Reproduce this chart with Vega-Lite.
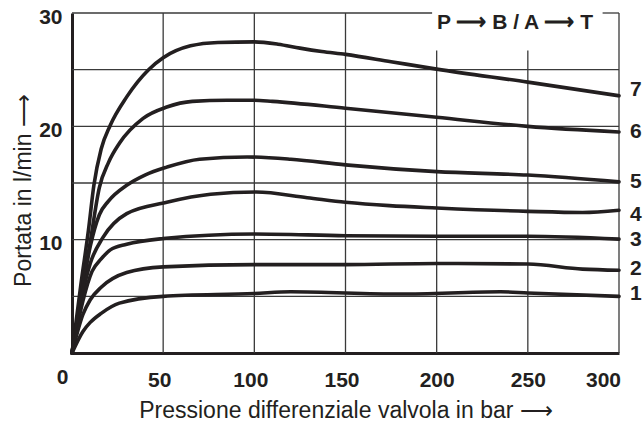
{
  "$schema": "https://vega.github.io/schema/vega-lite/v6.json",
  "width": 547,
  "height": 340,
  "autosize": "none",
  "padding": {"left": 72, "top": 13, "right": 25, "bottom": 75},
  "background": "white",
  "config": {
    "view": {"stroke": null},
    "font": "Liberation Sans",
    "axis": {
      "grid": false, "ticks": false, "tickSize": 0,
      "labelFlush": false, "labelOverlap": false,
      "labelFont": "Liberation Sans", "labelFontSize": 21, "labelFontWeight": "bold", "labelColor": "#231f20",
      "domainWidth": 3, "domainColor": "#231f20",
      "titleFont": "Liberation Sans", "titleFontSize": 23, "titleFontWeight": "normal", "titleColor": "#231f20"
    }
  },
  "datasets": {
    "hgrid": [{"v": 5}, {"v": 10}, {"v": 15}, {"v": 20}, {"v": 25}],
    "vfull": [{"g": 50}, {"g": 100}, {"g": 150}, {"g": 300}],
    "vpart": [{"g": 200}, {"g": 250}],
    "curves": [
      {"c": "7", "p": 0, "q": 0}, {"c": "7", "p": 5, "q": 6.2}, {"c": "7", "p": 9, "q": 10.8}, {"c": "7", "p": 12, "q": 14.8}, {"c": "7", "p": 16, "q": 18.0}, {"c": "7", "p": 21, "q": 20.1}, {"c": "7", "p": 30, "q": 22.6}, {"c": "7", "p": 42, "q": 25}, {"c": "7", "p": 50, "q": 26.05}, {"c": "7", "p": 65, "q": 27.1}, {"c": "7", "p": 80, "q": 27.4}, {"c": "7", "p": 100, "q": 27.45}, {"c": "7", "p": 113, "q": 27.25}, {"c": "7", "p": 125, "q": 26.9}, {"c": "7", "p": 137, "q": 26.6}, {"c": "7", "p": 150, "q": 26.35}, {"c": "7", "p": 175, "q": 25.7}, {"c": "7", "p": 200, "q": 25.05}, {"c": "7", "p": 250, "q": 23.9}, {"c": "7", "p": 300, "q": 22.7},
      {"c": "6", "p": 0, "q": 0}, {"c": "6", "p": 5, "q": 5}, {"c": "6", "p": 10, "q": 9.8}, {"c": "6", "p": 15, "q": 14.6}, {"c": "6", "p": 20, "q": 16.8}, {"c": "6", "p": 26, "q": 18.5}, {"c": "6", "p": 39, "q": 20.7}, {"c": "6", "p": 52, "q": 21.7}, {"c": "6", "p": 66, "q": 22.2}, {"c": "6", "p": 85, "q": 22.3}, {"c": "6", "p": 100, "q": 22.3}, {"c": "6", "p": 110, "q": 22.2}, {"c": "6", "p": 150, "q": 21.6}, {"c": "6", "p": 200, "q": 20.8}, {"c": "6", "p": 250, "q": 20.0}, {"c": "6", "p": 300, "q": 19.5},
      {"c": "5", "p": 0, "q": 0}, {"c": "5", "p": 6, "q": 6}, {"c": "5", "p": 10, "q": 9.4}, {"c": "5", "p": 15, "q": 12.2}, {"c": "5", "p": 20, "q": 13.4}, {"c": "5", "p": 30, "q": 14.8}, {"c": "5", "p": 40, "q": 15.7}, {"c": "5", "p": 52, "q": 16.4}, {"c": "5", "p": 70, "q": 17.1}, {"c": "5", "p": 96, "q": 17.3}, {"c": "5", "p": 120, "q": 17.1}, {"c": "5", "p": 150, "q": 16.6}, {"c": "5", "p": 200, "q": 16.0}, {"c": "5", "p": 250, "q": 15.7}, {"c": "5", "p": 300, "q": 15.1},
      {"c": "4", "p": 0, "q": 0}, {"c": "4", "p": 6, "q": 5.4}, {"c": "4", "p": 10, "q": 7.9}, {"c": "4", "p": 17, "q": 10.2}, {"c": "4", "p": 30, "q": 12.3}, {"c": "4", "p": 52, "q": 13.3}, {"c": "4", "p": 76, "q": 14.0}, {"c": "4", "p": 101, "q": 14.2}, {"c": "4", "p": 129, "q": 13.7}, {"c": "4", "p": 150, "q": 13.3}, {"c": "4", "p": 174, "q": 13.0}, {"c": "4", "p": 200, "q": 12.8}, {"c": "4", "p": 250, "q": 12.5}, {"c": "4", "p": 280, "q": 12.4}, {"c": "4", "p": 300, "q": 12.6},
      {"c": "3", "p": 0, "q": 0}, {"c": "3", "p": 6, "q": 4.6}, {"c": "3", "p": 11, "q": 7.2}, {"c": "3", "p": 16, "q": 8.3}, {"c": "3", "p": 21, "q": 9.1}, {"c": "3", "p": 30, "q": 9.6}, {"c": "3", "p": 50, "q": 10.1}, {"c": "3", "p": 100, "q": 10.5}, {"c": "3", "p": 150, "q": 10.35}, {"c": "3", "p": 200, "q": 10.3}, {"c": "3", "p": 250, "q": 10.3}, {"c": "3", "p": 300, "q": 10.05},
      {"c": "2", "p": 0, "q": 0}, {"c": "2", "p": 6, "q": 3.4}, {"c": "2", "p": 10, "q": 4.7}, {"c": "2", "p": 16, "q": 5.8}, {"c": "2", "p": 30, "q": 7.1}, {"c": "2", "p": 50, "q": 7.6}, {"c": "2", "p": 100, "q": 7.8}, {"c": "2", "p": 150, "q": 7.8}, {"c": "2", "p": 200, "q": 7.9}, {"c": "2", "p": 250, "q": 7.85}, {"c": "2", "p": 280, "q": 7.4}, {"c": "2", "p": 300, "q": 7.3},
      {"c": "1", "p": 0, "q": 0}, {"c": "1", "p": 6, "q": 1.9}, {"c": "1", "p": 10, "q": 2.7}, {"c": "1", "p": 16, "q": 3.5}, {"c": "1", "p": 26, "q": 4.4}, {"c": "1", "p": 50, "q": 5.0}, {"c": "1", "p": 100, "q": 5.25}, {"c": "1", "p": 120, "q": 5.4}, {"c": "1", "p": 180, "q": 5.2}, {"c": "1", "p": 235, "q": 5.4}, {"c": "1", "p": 250, "q": 5.3}, {"c": "1", "p": 300, "q": 5.0}
    ],
    "labels": [
      {"c": "7", "q": 23.25}, {"c": "6", "q": 19.54}, {"c": "5", "q": 15.13}, {"c": "4", "q": 12.22}, {"c": "3", "q": 10.0}, {"c": "2", "q": 7.37}, {"c": "1", "q": 5.17}
    ]
  },
  "layer": [
    {
      "data": {"name": "curves"},
      "mark": {"type": "line", "opacity": 0},
      "encoding": {
        "x": {
          "field": "p", "type": "quantitative",
          "scale": {"domain": [0, 300], "nice": false, "zero": true},
          "axis": {
            "values": [0, 50, 100, 150, 200, 250, 300],
            "title": "Pressione differenziale valvola in bar ⟶",
            "labelPadding": {"condition": {"test": "datum.value == 0", "value": 13}, "value": 16},
            "labelOffset": {"condition": [{"test": "datum.value == 0", "value": -10}, {"test": "datum.value == 300", "value": -16}, {"test": "datum.value <= 150", "value": -4}], "value": 0},
            "titlePadding": 9
          }
        },
        "y": {
          "field": "q", "type": "quantitative",
          "scale": {"domain": [0, 30], "nice": false, "zero": true},
          "axis": {
            "values": [10, 20, 30],
            "title": "Portata in l/min ⟶",
            "labelPadding": 10, "labelOffset": 4,
            "titlePadding": 3, "titleY": 177
          }
        },
        "detail": {"field": "c", "type": "nominal"}
      }
    },
    {
      "data": {"name": "hgrid"},
      "mark": {"type": "rule", "stroke": "#3a3a3a", "strokeWidth": 1.3},
      "encoding": {"y": {"field": "v", "type": "quantitative"}}
    },
    {
      "data": {"name": "vfull"},
      "mark": {"type": "rule", "stroke": "#3a3a3a", "strokeWidth": 1.3},
      "encoding": {"x": {"field": "g", "type": "quantitative"}}
    },
    {
      "data": {"name": "vpart"},
      "mark": {"type": "rule", "stroke": "#3a3a3a", "strokeWidth": 1.3},
      "encoding": {
        "x": {"field": "g", "type": "quantitative"},
        "y": {"datum": 0, "type": "quantitative"},
        "y2": {"datum": 26.7}
      }
    },
    {
      "data": {"values": [{}]},
      "mark": {"type": "rule", "stroke": "#3a3a3a", "strokeWidth": 1.3},
      "encoding": {
        "x": {"datum": 0, "type": "quantitative"},
        "x2": {"datum": 197.5},
        "y": {"datum": 30, "type": "quantitative"}
      }
    },
    {
      "data": {"values": [{}]},
      "mark": {"type": "rule", "stroke": "#3a3a3a", "strokeWidth": 1.3},
      "encoding": {
        "x": {"datum": 291, "type": "quantitative"},
        "x2": {"datum": 300},
        "y": {"datum": 30, "type": "quantitative"}
      }
    },
    {
      "data": {"name": "curves"},
      "mark": {"type": "line", "interpolate": "monotone", "strokeWidth": 3.6, "strokeCap": "round", "strokeJoin": "round", "color": "#231f20"},
      "encoding": {
        "x": {"field": "p", "type": "quantitative"},
        "y": {"field": "q", "type": "quantitative"},
        "detail": {"field": "c", "type": "nominal"}
      }
    },
    {
      "data": {"name": "labels"},
      "mark": {"type": "text", "align": "left", "baseline": "middle", "dx": 11, "fontSize": 21, "fontWeight": "bold", "font": "Liberation Sans", "color": "#231f20"},
      "encoding": {
        "x": {"datum": 300, "type": "quantitative"},
        "y": {"field": "q", "type": "quantitative"},
        "text": {"field": "c", "type": "nominal"}
      }
    },
    {
      "data": {"values": [{}]},
      "mark": {"type": "text", "align": "right", "baseline": "middle", "dx": -26, "dy": 9.5, "fontSize": 21, "fontWeight": "bold", "font": "Liberation Sans", "color": "#231f20", "text": "P ⟶ B / A ⟶ T"},
      "encoding": {
        "x": {"datum": 300, "type": "quantitative"},
        "y": {"datum": 30, "type": "quantitative"}
      }
    }
  ]
}
